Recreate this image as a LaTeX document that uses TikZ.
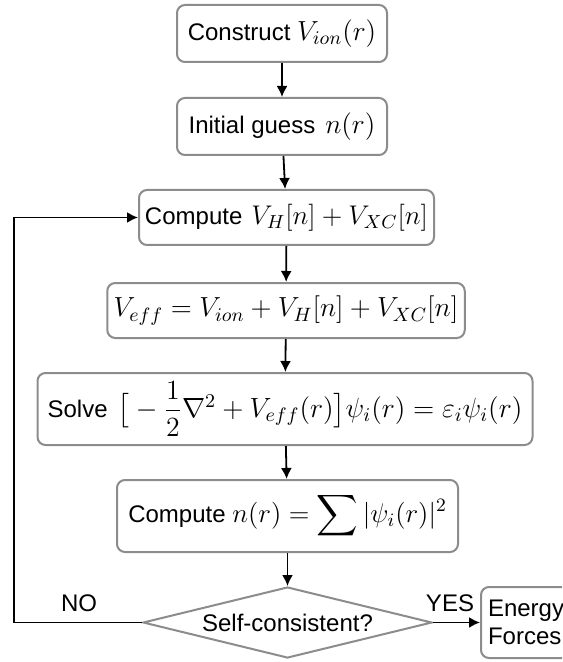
\RequirePackage{fix-cm}
\documentclass[tikz,border=0pt]{standalone}
\usepackage{amsmath}
\usepackage{fontspec}
\setmainfont{Liberation Sans}
\usetikzlibrary{shapes.geometric,arrows.meta}
\newcommand\mathsz[2]{{\fontsize{#1}{#1}\selectfont$#2$}}
\begin{document}
\begin{tikzpicture}[x=0.5pt,y=-0.5pt,
  every node/.style={font=\fontsize{12}{14}\selectfont},
  stepbox/.style={draw=black!45,line width=1pt,rounded corners=4pt,fill=white,inner sep=1pt},
  arr/.style={draw=black,line width=0.9pt,-{Latex[length=5.5pt,width=5.5pt]}},
  lbl/.style={inner sep=0pt}]
\clip (0,0) rectangle (562,662);
\fill[white] (0,0) rectangle (562,662);
\node[stepbox,minimum width=105pt,minimum height=28.5pt] (b1) at (282,33.5) {Construct \mathsz{13.8}{V_{ion}(r)}};
\node[stepbox,minimum width=105pt,minimum height=28.5pt] (b2) at (282,126.5) {Initial guess\hspace{5pt}\mathsz{13.8}{n(r)}};
\node[stepbox,minimum width=147.5pt,minimum height=27.5pt] (b3) at (286.5,217.5) {Compute\hspace{4.5pt}\mathsz{13.5}{V_H[n]+V_{XC}[n]}};
\node[stepbox,minimum width=178.75pt,minimum height=27.5pt] (b4) at (286,310.5) {\mathsz{13.8}{V_{eff}=V_{ion}+V_H[n]+V_{XC}[n]}};
\node[stepbox,minimum width=247.5pt,minimum height=36pt] (b5) at (285,409) {Solve\hspace{5pt}\mathsz{13.9}{\big[-\dfrac{1}{2}\nabla^2+V_{eff}(r)\big]\psi_i(r)=\varepsilon_i\psi_i(r)}};
\node[stepbox,minimum width=170.5pt,minimum height=36pt] (b6) at (287.5,516) {Compute \mathsz{13.5}{\displaystyle n(r)=\sum|\psi_i(r)|^2}};
\node[draw=black!45,line width=1pt,shape=diamond,aspect=4,inner sep=0pt,minimum width=144.5pt,minimum height=35.5pt] (d) at (287.5,622.5) {Self-consistent?};
\node[stepbox,anchor=west,minimum height=35.5pt,text width=58pt,align=left,inner xsep=3.5pt] (en) at (480,622.5) {Energy\\Forces};
\node[lbl] (no) at (79,603) {NO};
\node[lbl] (yes) at (450,603) {YES};
\coordinate (lc) at (13.6,622.5);
\draw[arr] (b1) -- (b2);
\draw[arr] (b2) -- (b3);
\draw[arr] (b3) -- (b4);
\draw[arr] (b4) -- (b5);
\draw[arr] (b5) -- (b6);
\draw[arr] (b6) -- (d);
\draw[arr] (d.west) -- (lc) |- (b3.west);
\draw[arr] (d.east) -- (en.west);
\end{tikzpicture}
\end{document}
